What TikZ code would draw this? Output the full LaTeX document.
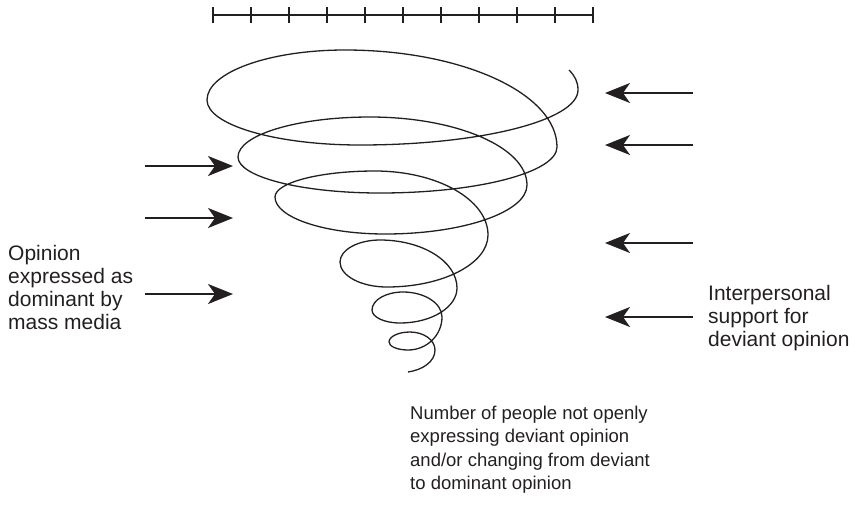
\documentclass[tikz,border=0pt]{standalone}
\usepackage{fontspec}
\setmainfont{Liberation Sans}
\usetikzlibrary{arrows.meta}
\definecolor{ink}{HTML}{231F20}
\begin{document}
\begin{tikzpicture}[x=1pt,y=-1pt,
  spiralline/.style={draw=ink, line width=1.3pt},
  scaleline/.style={draw=ink, line width=1.1pt},
  pusharrow/.style={draw=ink, line width=2pt, -{Stealth[length=25pt,width=20pt,inset=7pt]}},
  caption/.style={inner sep=0pt, anchor=north west, align=left, text=ink, font=\fontsize{21pt}{23pt}\selectfont},
  bottomcaption/.style={caption, font=\fontsize{18.5pt}{23.3pt}\selectfont}]
\useasboundingbox (0,0) rectangle (856,515);
% scale bar
\draw[scaleline] (213,15) -- (593,15);
\foreach \i in {0,...,10} \draw[scaleline] (213+38*\i,7) -- (213+38*\i,23);
% spiral
\draw[spiralline] (569,70) .. controls (575,76) and (578,82) .. (578,90)
 .. controls (578,120.4) and (480.4,145) .. (360,145)
 .. controls (275.5,145) and (207,124.9) .. (207,100)
 .. controls (207,72.4) and (268.8,50) .. (345,50)
 .. controls (462,50) and (557,93.4) .. (557,147)
 .. controls (557,172.4) and (477.8,193) .. (380,193)
 .. controls (301.6,193) and (238,176.9) .. (238,157)
 .. controls (238,134.9) and (297.1,117) .. (370,117)
 .. controls (456.7,117) and (527,147.4) .. (527,185)
 .. controls (527,212) and (463.4,234) .. (385,234)
 .. controls (324.2,234) and (275,217.4) .. (275,197)
 .. controls (275,182.6) and (319.8,171) .. (375,171)
 .. controls (437.4,171) and (488,199.7) .. (488,235)
 .. controls (488,263.7) and (442.8,287) .. (387,287)
 .. controls (361,287) and (340,275.8) .. (340,262)
 .. controls (340,249.8) and (357.9,240) .. (380,240)
 .. controls (422.5,240) and (457,261.5) .. (457,288)
 .. controls (457,307.3) and (431.5,323) .. (400,323)
 .. controls (384.5,323) and (372,317.2) .. (372,310)
 .. controls (372,300) and (385.9,292) .. (403,292)
 .. controls (424.5,292) and (442,303.2) .. (442,317)
 .. controls (442,335.2) and (426.8,350) .. (408,350)
 .. controls (397.5,350) and (389,346.4) .. (389,342)
 .. controls (389,336.5) and (398.4,332) .. (410,332)
 .. controls (423.8,332) and (435,340) .. (435,350)
 .. controls (435,362) and (422,370) .. (408,372);
% left arrows
\coordinate (l1s) at (145,166); \coordinate (l1e) at (233,166);
\coordinate (l2s) at (145,218); \coordinate (l2e) at (233,218);
\coordinate (l3s) at (145,294); \coordinate (l3e) at (233,294);
\draw[pusharrow] (l1s) -- (l1e);
\draw[pusharrow] (l2s) -- (l2e);
\draw[pusharrow] (l3s) -- (l3e);
% right arrows
\coordinate (r1s) at (693,93);  \coordinate (r1e) at (605,93);
\coordinate (r2s) at (693,145); \coordinate (r2e) at (605,145);
\coordinate (r3s) at (693,243); \coordinate (r3e) at (605,243);
\coordinate (r4s) at (693,317); \coordinate (r4e) at (605,317);
\draw[pusharrow] (r1s) -- (r1e);
\draw[pusharrow] (r2s) -- (r2e);
\draw[pusharrow] (r3s) -- (r3e);
\draw[pusharrow] (r4s) -- (r4e);
% labels
\node[caption] (leftlabel) at (8,245) {Opinion\\expressed as\\dominant by\\mass media};
\node[caption] (rightlabel) at (708,285.5) {Interpersonal\\support for\\deviant opinion};
\node[bottomcaption] (bottomlabel) at (410,406) {Number of people not openly\\expressing deviant opinion\\and/or changing from deviant\\to dominant opinion};
\end{tikzpicture}
\end{document}
